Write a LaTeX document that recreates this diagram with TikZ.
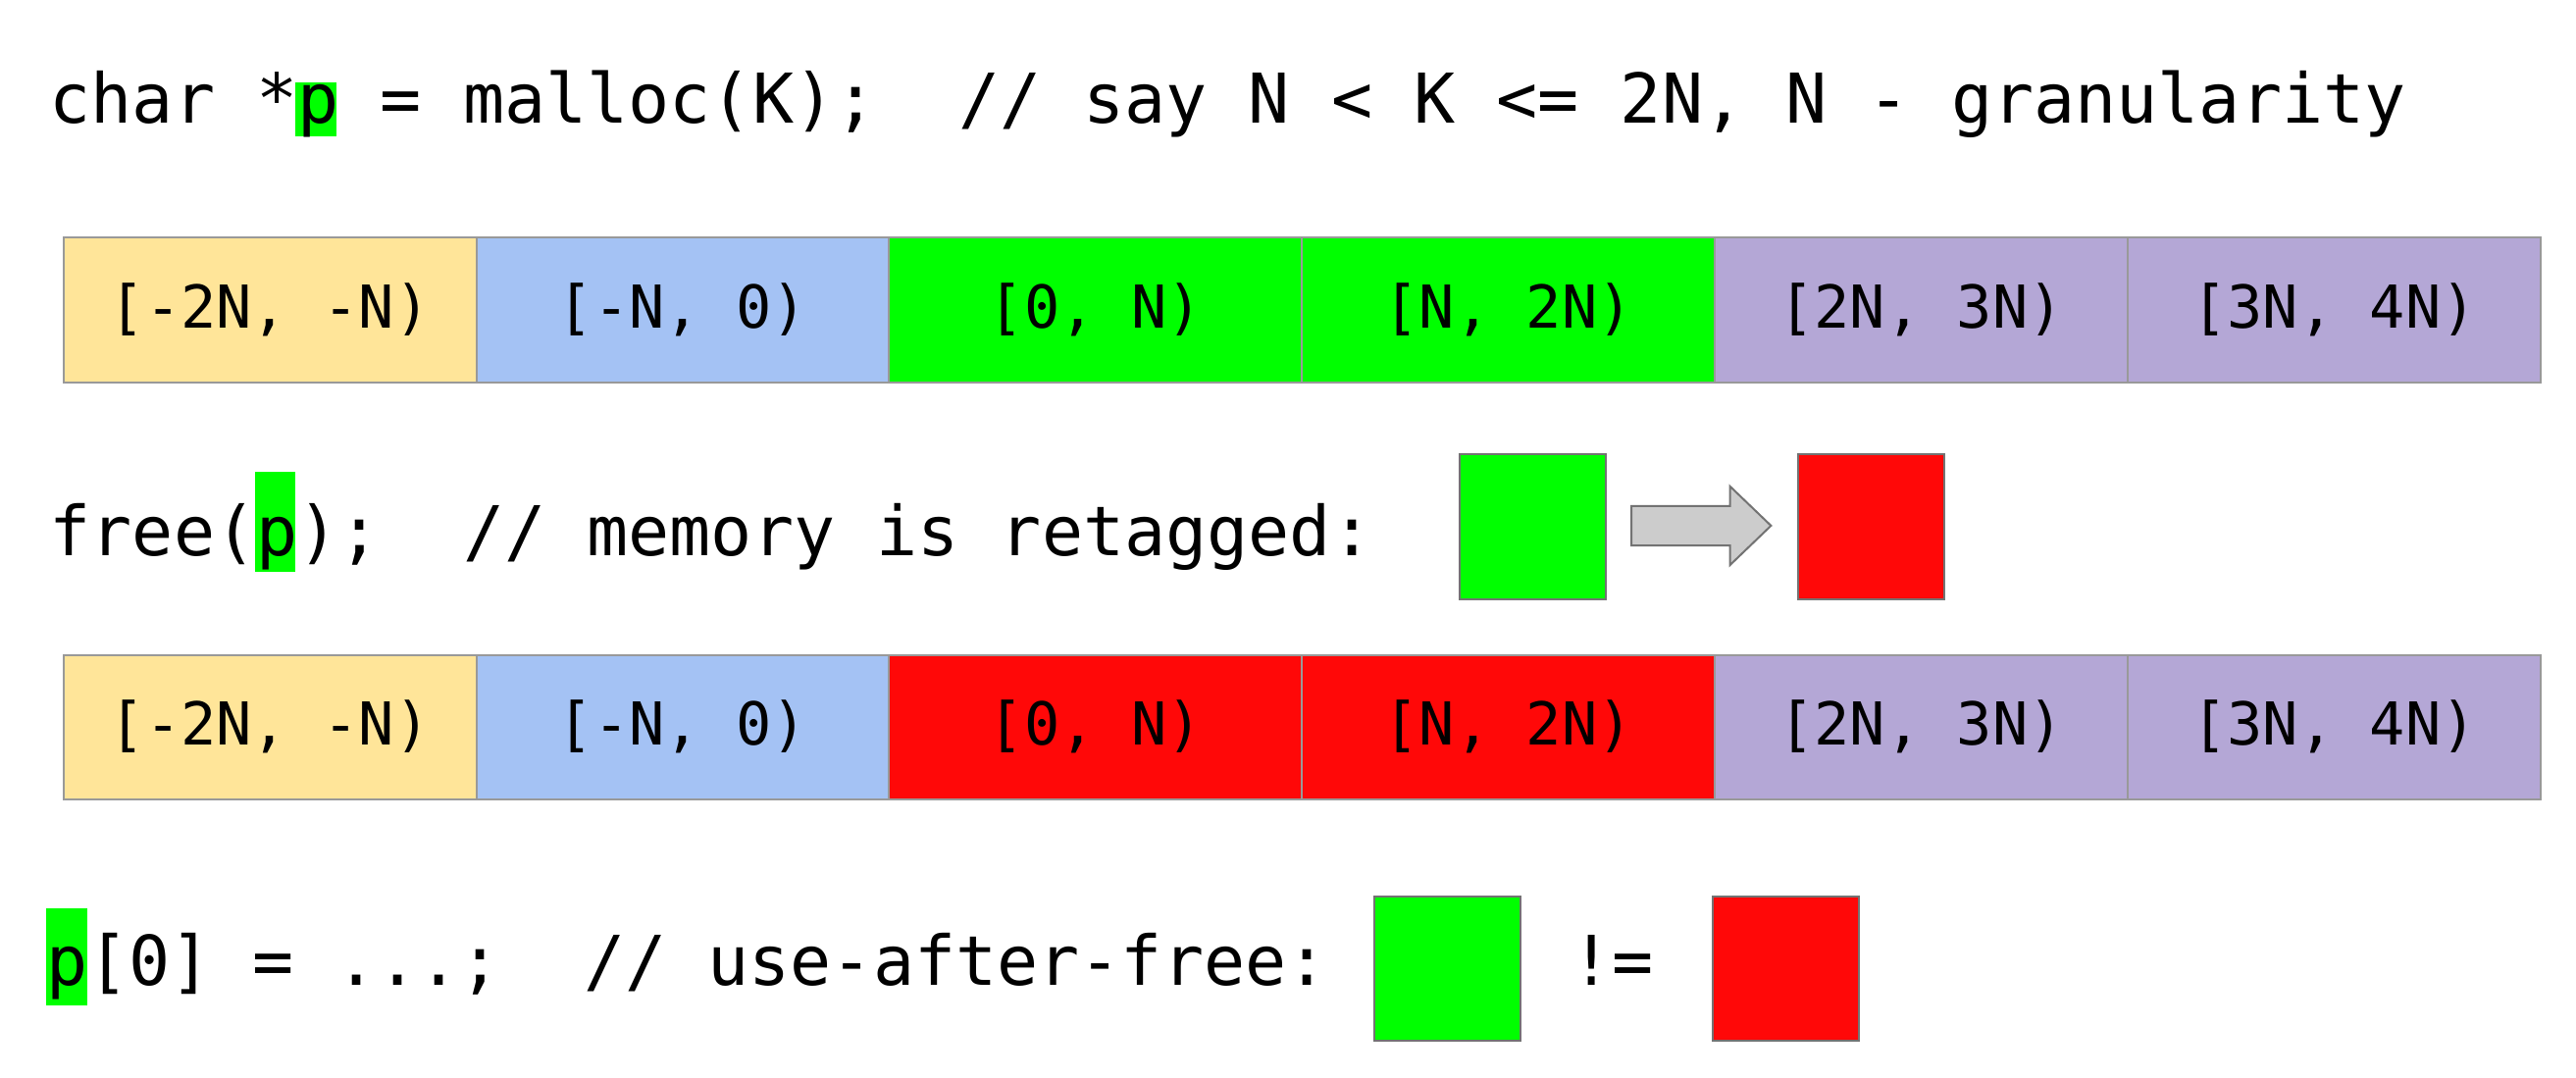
\documentclass[tikz,border=0pt]{standalone}
\usepackage{fontspec}
\setmonofont{DejaVu Sans Mono}
\begin{document}
\begin{tikzpicture}[x=1pt,y=-1pt,
  txt/.style={font=\ttfamily\fontsize{41.8}{45}\selectfont, anchor=base west, inner sep=0pt},
  cell/.style={draw=gray!80, line width=1.2pt, minimum width=251.3pt, minimum height=88pt, inner sep=0pt, anchor=north west, font=\ttfamily\fontsize{36}{40}\selectfont},
  sq/.style={draw=gray!90!black, line width=1.2pt, minimum width=89pt, minimum height=88pt, anchor=north west, inner sep=0pt},
  hl/.style={fill=green, draw=none}]
\definecolor{cy}{HTML}{FFE599}\definecolor{cb}{HTML}{A4C2F4}
\definecolor{cg}{HTML}{00FF00}\definecolor{cp}{HTML}{B4A7D6}\definecolor{cr}{HTML}{FF0808}
\useasboundingbox (0,0) rectangle (1568,656);
\fill[hl] (180,50) rectangle (205,83);
\node[txt] (t1) at (30,75) {char *p = malloc(K);\ \ // say N < K <= 2N, N - granularity};
\foreach \i/\c/\t in {0/cy/{[-2N, -N)},1/cb/{[-N, 0)},2/cg/{[0, N)},3/cg/{[N, 2N)},4/cp/{[2N, 3N)},5/cp/{[3N, 4N)}}
  \node[cell, fill=\c] (a\i) at (38+\i*251.3,144) {\t};
\fill[hl] (155,287) rectangle (180,348);
\node[txt] (t2) at (30,338) {free(p);\ \ // memory is retagged:};
\node[sq, fill=cg] (g1) at (888,276) {};
\node[sq, fill=cr] (r1) at (1094,276) {};
\draw[gray!90!black, line width=1.2pt, fill=gray!40] (993,308) -- (1053,308) -- (1053,296) -- (1078,320) -- (1053,344) -- (1053,332) -- (993,332) -- cycle;
\foreach \i/\c/\t in {0/cy/{[-2N, -N)},1/cb/{[-N, 0)},2/cr/{[0, N)},3/cr/{[N, 2N)},4/cp/{[2N, 3N)},5/cp/{[3N, 4N)}}
  \node[cell, fill=\c] (b\i) at (38+\i*251.3,398) {\t};
\fill[hl] (28,553) rectangle (53,612);
\node[txt] (t3) at (28,600) {p[0] = ...;\ \ // use-after-free:};
\node[sq, fill=cg] (g2) at (836,545) {};
\node[txt] (ne) at (956,600) {!=};
\node[sq, fill=cr] (r2) at (1042,545) {};
\end{tikzpicture}
\end{document}
